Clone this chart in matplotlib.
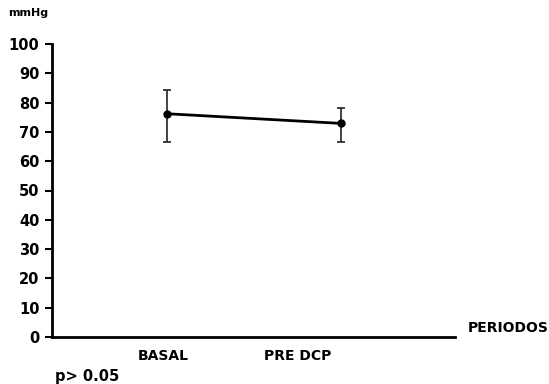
import matplotlib

matplotlib.use("Agg")
import matplotlib.pyplot as plt

# data
periods = ["BASAL", "PRE DCP"]
mean_mmhg = [76.2, 72.9]
upper_mmhg = [84.3, 78.3]
lower_mmhg = [66.6, 66.6]
y_ticks = [0, 10, 20, 30, 40, 50, 60, 70, 80, 90, 100]

# layout
point_x = [1.0, 2.0]
label_x = [0.977, 1.753]

plt.rcParams["font.family"] = ["DejaVu Sans"]

fig = plt.figure(figsize=(5.49, 3.84), dpi=100)
ax = fig.add_axes((52 / 549, 47 / 384, 403 / 549, 293 / 384))

err_lo = [m - lo for m, lo in zip(mean_mmhg, lower_mmhg)]
err_hi = [hi - m for m, hi in zip(mean_mmhg, upper_mmhg)]
ax.errorbar(
  point_x, mean_mmhg, yerr=[err_lo, err_hi],
  color="black", ecolor="#222222", elinewidth=1.2, capsize=3, capthick=1.2,
  linewidth=2, marker="o", markersize=5,
)

ax.set_xlim(0.34, 2.655)
ax.set_ylim(0, 100)
ax.set_yticks(y_ticks)
ax.set_yticklabels([str(v) for v in y_ticks], fontsize=10.5, fontweight="bold")
ax.set_xticks(label_x)
ax.set_xticklabels(periods, fontsize=10, fontweight="bold")
ax.tick_params(axis="x", length=0, pad=9)
ax.tick_params(axis="y", length=5, width=1.5, pad=4, direction="out")

for side in ("top", "right"):
  ax.spines[side].set_visible(False)
for side in ("left", "bottom"):
  ax.spines[side].set_linewidth(2)

fig.text(8 / 549, 1 - 13 / 384, "mmHg", fontsize=8, fontweight="bold", va="center")
fig.text(468 / 549, 1 - 328 / 384, "PERIODOS", fontsize=10, fontweight="bold", va="center")
fig.text(55 / 549, 1 - 376 / 384, "p> 0.05", fontsize=10.5, fontweight="bold", va="center")

fig.savefig("out.png", dpi=100)
